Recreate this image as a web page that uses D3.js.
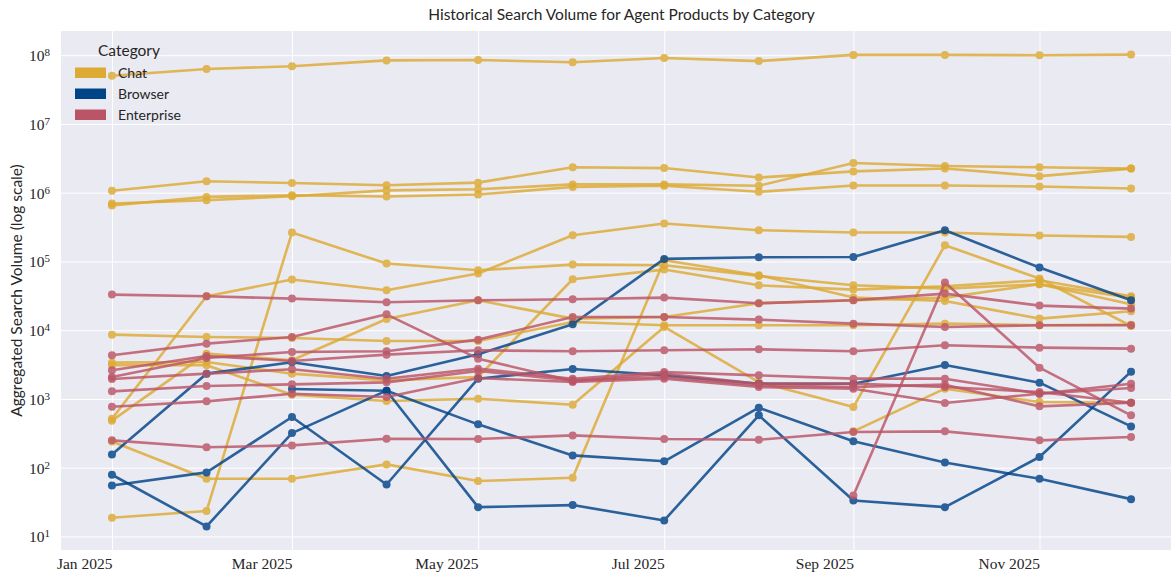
<!DOCTYPE html>
<html>
<head>
<meta charset="utf-8">
<script src="https://cdn.jsdelivr.net/npm/d3@7"></script>
<style>
body { margin: 0; background: #fff; }
</style>
</head>
<body>
<div id="chart"></div>
<script>
// months of the series (first day of each month)
var months = ["2025-01-01", "2025-02-01", "2025-03-01", "2025-04-01", "2025-05-01", "2025-06-01",
  "2025-07-01", "2025-08-01", "2025-09-01", "2025-10-01", "2025-11-01", "2025-12-01"];

var categories = ["Chat", "Browser", "Enterprise"];
var categoryColors = ["#DDAA33", "#004488", "#BB5566"];
var yTickExps = [1, 2, 3, 4, 5, 6, 7, 8];

// Chat products
var chat1 = [50100000, 63000000, 69000000, 84000000, 85000000, 79000000, 91000000, 82000000, 101000000, 101000000, 100000000, 102000000];
var chat2 = [1070000, 1470000, 1380000, 1280000, 1400000, 2350000, 2280000, 1660000, 2040000, 2250000, 1740000, 2240000];
var chat3 = [697000, 778000, 889000, 1080000, 1120000, 1320000, 1320000, 1260000, 2700000, 2450000, 2340000, 2240000];
var chat4 = [652000, 869000, 920000, 880000, 942000, 1210000, 1260000, 1030000, 1270000, 1270000, 1230000, 1150000];
var chat5 = [516, 31150, 54500, 38100, 66600, 240600, 355800, 284700, 263300, 263300, 237900, 227500];
var chat6 = [18.7, 23.4, 263300, 93100, 74500, 90000, 88000, 61600, 45000, 40300, 46600, 23800];
var chat7 = [241, 69.1, 69.1, 111.7, 63.9, 71.4, 104100, 63000, 29800, 26650, 14740, 18840];
var chat8 = [8620, 7970, 7710, 6970, 6970, 13180, 11790, 11790, 11790, 12460, 11790, 12050];
var chat9 = [3373, 3449, 2332, 1865, 2086, 55080, 76130, 45000, 38950, 43550, 53270, 31150];
var chat10 = [3084, 3084, 1154, 933, 1009, 825, 11140, 1764, 763, 172100, 56320, 11520];
var chat11 = [483, 4558, 3647, 14570, 27240, 14740, 15580, 24640, 27240, 29800, 46600, 29800];
var chat12 = [null, null, null, null, null, null, null, null, 338, 1411, 902, 882];

// Browser products
var browser1 = [156, 2334, 3412, 2158, 4457, 12190, 108900, 115000, 116000, 284000, 81500, 27200];
var browser2 = [55, 85.5, 546, 57, 1972, 2729, 2203, 1667, 1667, 3120, 1725, 399];
var browser3 = [null, null, 1397, 1319, 427, 151, 124, 746, 242, 119, 69, 34.9];
var browser4 = [79, 14, 319, 1319, 26.7, 28.6, 17.1, 577, 33.4, 26.7, 143, 2494];

// Enterprise products
var enterprise1 = [32930, 31150, 28800, 25480, 27240, 28170, 29800, 24640, 27240, 34060, 22780, 20600];
var enterprise2 = [4311, 6375, 7970, 17030, 3856, 1824, 2332, 1668, 1668, 1491, 1262, 882];
var enterprise3 = [2086, 3943, 4823, 4932, 7290, 15580, 15580, 14250, 12460, 11140, 11790, 11790];
var enterprise4 = [2609, 4217, 3566, 4409, 5098, 4932, 5098, 5272, 4932, 6030, 5576, 5393];
var enterprise5 = [1951, 2332, 2697, 1972, 2758, 1972, 2466, 2205, 1972, 1972, 1193, 1668];
var enterprise6 = [1290, 1543, 1631, 1744, 2551, 1865, 2086, 1578, 1491, 1613, 780, 882];
var enterprise7 = [772, 923, 1193, 1067, 2017, 1764, 1972, 1491, 1411, 873, 1193, 1443];
var enterprise8 = [250, 198, 211, 264, 261, 295, 261, 255, 330, 338, 250, 279];
var enterprise9 = [null, null, null, null, null, null, null, null, 39.5, 49250, 2851, 577];

var chatSeries = [chat1, chat2, chat3, chat4, chat5, chat6, chat7, chat8, chat9, chat10, chat11, chat12];
var browserSeries = [browser1, browser2, browser3, browser4];
var enterpriseSeries = [enterprise1, enterprise2, enterprise3, enterprise4, enterprise5, enterprise6, enterprise7, enterprise8, enterprise9];
var seriesByCategory = [chatSeries, browserSeries, enterpriseSeries];

var width = 1171, height = 573;
var margin = {top: 31, right: -11, bottom: 23, left: 61};
var plotW = width - margin.left - margin.right,
    plotH = height - margin.top - margin.bottom;

var dates = months.map(d3.utcParse("%Y-%m-%d"));
var color = d3.scaleOrdinal(categories, categoryColors);

// matplotlib-like 5% padding around the data
var tPad = (dates[dates.length - 1] - dates[0]) * 0.05;
var x = d3.scaleUtc()
  .domain([new Date(+dates[0] - tPad), new Date(+dates[dates.length - 1] + tPad)])
  .range([0, plotW]);

var allVals = d3.merge(d3.merge(seriesByCategory)).filter(function(v) { return v != null; });
var lo = Math.log10(d3.min(allVals)), hi = Math.log10(d3.max(allVals));
var lPad = (hi - lo) * 0.05;
var y = d3.scaleLog()
  .domain([Math.pow(10, lo - lPad), Math.pow(10, hi + lPad)])
  .range([plotH, 0]);

var svg = d3.select("#chart").append("svg")
  .attr("width", width)
  .attr("height", height)
  .style("font-family", "Lato, 'DejaVu Sans', sans-serif");

var g = svg.append("g")
  .attr("transform", "translate(" + margin.left + "," + margin.top + ")");

g.append("rect")
  .attr("width", plotW)
  .attr("height", plotH)
  .attr("fill", "#EAEAF2");

// grid
var xTicks = x.ticks(d3.utcMonth.every(2));
g.append("g")
  .attr("class", "xgrid")
  .attr("transform", "translate(0," + plotH + ")")
  .call(d3.axisBottom(x).tickValues(xTicks).tickSize(-plotH).tickFormat(""))
  .call(function(s) { s.select(".domain").remove(); })
  .selectAll("line").attr("stroke", "#fff").attr("stroke-width", 1);

var yTicks = yTickExps.map(function(e) { return Math.pow(10, e); });
g.append("g")
  .attr("class", "ygrid")
  .call(d3.axisLeft(y).tickValues(yTicks).tickSize(-plotW).tickFormat(""))
  .call(function(s) { s.select(".domain").remove(); })
  .selectAll("line").attr("stroke", "#fff").attr("stroke-width", 1);

// x axis labels (right aligned to tick)
var xAxis = g.append("g")
  .attr("transform", "translate(0," + plotH + ")")
  .call(d3.axisBottom(x).tickValues(xTicks).tickSize(0).tickFormat(d3.utcFormat("%b %Y")));
xAxis.select(".domain").remove();
xAxis.selectAll("text")
  .attr("text-anchor", "end")
  .attr("dy", "1.05em")
  .style("font-family", "'Liberation Serif', 'DejaVu Serif', serif")
  .style("font-size", "15.5px")
  .attr("fill", "#262626");

// y axis labels 10^n
var yAxis = g.append("g")
  .call(d3.axisLeft(y).tickValues(yTicks).tickSize(0).tickFormat(""));
yAxis.select(".domain").remove();
yAxis.selectAll(".tick").each(function(d, i) {
  var t = d3.select(this).append("text")
    .attr("x", -11)
    .attr("dy", "0.35em")
    .attr("text-anchor", "end")
    .attr("fill", "#262626")
    .style("font-family", "'Liberation Serif', 'DejaVu Serif', serif")
    .style("font-size", "15.5px");
  t.append("tspan").text("10");
  t.append("tspan").attr("dy", "-0.45em").style("font-size", "11px").text(yTickExps[i]);
});

// lines
var line = d3.line()
  .defined(function(d) { return d != null; })
  .x(function(d, i) { return x(dates[i]); })
  .y(function(d) { return y(d); });

categories.forEach(function(cat, ci) {
  seriesByCategory[ci].forEach(function(vals) {
    var sg = g.append("g").attr("opacity", 0.82);
    sg.append("path")
      .datum(vals)
      .attr("fill", "none")
      .attr("stroke", color(cat))
      .attr("stroke-width", 2.6)
      .attr("stroke-linejoin", "round")
      .attr("d", line);
    sg.selectAll("circle")
      .data(vals.map(function(v, i) { return {v: v, i: i}; }).filter(function(d) { return d.v != null; }))
      .enter().append("circle")
      .attr("cx", function(d) { return x(dates[d.i]); })
      .attr("cy", function(d) { return y(d.v); })
      .attr("r", 4)
      .attr("fill", color(cat));
  });
});

// title
svg.append("text")
  .attr("x", margin.left + plotW / 2)
  .attr("y", 20)
  .attr("text-anchor", "middle")
  .attr("fill", "#262626")
  .style("font-size", "15.5px")
  .text("Historical Search Volume for Agent Products by Category");

// y label
svg.append("text")
  .attr("transform", "rotate(-90)")
  .attr("x", -(margin.top + plotH / 2))
  .attr("y", 22)
  .attr("text-anchor", "middle")
  .attr("fill", "#262626")
  .style("font-size", "15.5px")
  .text("Aggregated Search Volume (log scale)");

// legend
var legend = svg.append("g").attr("transform", "translate(75,0)");
legend.append("text")
  .attr("x", 54)
  .attr("y", 56)
  .attr("text-anchor", "middle")
  .attr("fill", "#262626")
  .style("font-size", "15.5px")
  .text("Category");
categories.forEach(function(cat, i) {
  var row = legend.append("g").attr("transform", "translate(0," + (67.5 + i * 21) + ")");
  row.append("rect")
    .attr("width", 31)
    .attr("height", 10.5)
    .attr("fill", color(cat));
  row.append("text")
    .attr("x", 43)
    .attr("y", 10)
    .attr("fill", "#262626")
    .style("font-size", "14px")
    .text(cat);
});
</script>
</body>
</html>
